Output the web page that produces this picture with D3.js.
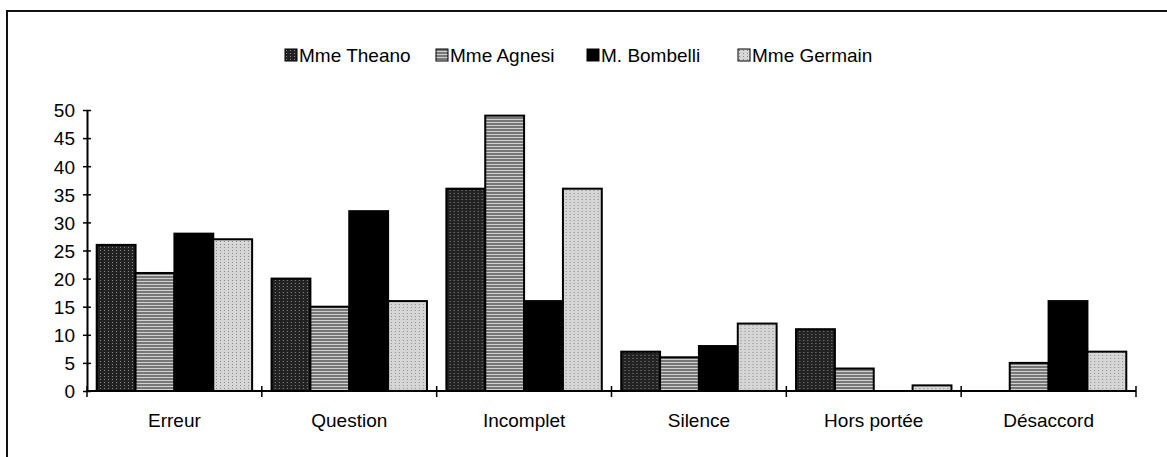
<!DOCTYPE html>
<html>
<head>
<meta charset="utf-8">
<script src="https://cdn.jsdelivr.net/npm/d3@7"></script>
<style>
  html, body { margin: 0; padding: 0; background: #fff; }
  svg { display: block; }
  text { font-family: "Liberation Sans", Arial, sans-serif; fill: #000; }
</style>
</head>
<body>
<script>
const categories = ["Erreur", "Question", "Incomplet", "Silence", "Hors portée", "Désaccord"];
const seriesNames = ["Mme Theano", "Mme Agnesi", "M. Bombelli", "Mme Germain"];
const theano   = [26, 20, 36, 7, 11, 0];
const agnesi   = [21, 15, 49, 6, 4, 5];
const bombelli = [28, 32, 16, 8, 0, 16];
const germain  = [27, 16, 36, 12, 1, 7];
const yTicks = [0, 5, 10, 15, 20, 25, 30, 35, 40, 45, 50];

const seriesValues = [theano, agnesi, bombelli, germain];
const W = 1167, H = 457;
const margin = { left: 87, right: 31, top: 110, bottom: 66 };

const svg = d3.select("body").append("svg").attr("width", W).attr("height", H);
const defs = svg.append("defs");

// texture patterns imitating the scanned print
function pat(id, bg, fg, kind) {
  const p = defs.append("pattern").attr("id", id).attr("patternUnits", "userSpaceOnUse")
    .attr("width", 4).attr("height", 3);
  p.append("rect").attr("width", 4).attr("height", 3).attr("fill", bg);
  if (kind === "dots") {
    p.append("rect").attr("x", 1).attr("y", 1).attr("width", 1).attr("height", 1).attr("fill", fg);
  } else if (kind === "lines") {
    p.append("rect").attr("x", 0).attr("y", 2).attr("width", 4).attr("height", 1).attr("fill", fg);
  }
}
pat("pTheano", "#222", "#8a8a8a", "dots");
pat("pAgnesi", "#777", "#d0d0d0", "lines");
pat("pGermain", "#d6d6d6", "#8a8a8a", "dots");
const fills = ["url(#pTheano)", "url(#pAgnesi)", "#000", "url(#pGermain)"];

// outer frame (top and left edges visible in scan)
svg.append("path").attr("d", `M7,${H} L7,11 L${W},11`)
  .attr("fill", "none").attr("stroke", "#111").attr("stroke-width", 2);

const x0 = d3.scaleBand().domain(categories).range([margin.left, W - margin.right]).paddingInner(0).paddingOuter(0);
const x1 = d3.scaleBand().domain(d3.range(seriesNames.length)).range([0, x0.bandwidth()]).paddingOuter(0.25).paddingInner(0);
const y = d3.scaleLinear().domain([0, 50]).range([H - margin.bottom, margin.top]);

// bars
const groups = svg.append("g").selectAll("g").data(categories).join("g")
  .attr("transform", d => `translate(${x0(d)},0)`);
groups.selectAll("rect")
  .data((c, ci) => seriesValues.map((vals, si) => ({ si, v: vals[ci] })))
  .join("rect")
  .filter(d => d.v > 0)
  .attr("x", d => x1(d.si))
  .attr("y", d => y(d.v))
  .attr("width", x1.bandwidth())
  .attr("height", d => y(0) - y(d.v))
  .attr("fill", d => fills[d.si])
  .attr("stroke", "#000")
  .attr("stroke-width", 2);

// y axis
const yAxis = d3.axisLeft(y).tickValues(yTicks).tickSizeInner(4).tickSizeOuter(0).tickPadding(8);
const gy = svg.append("g").attr("transform", `translate(${margin.left},0)`).call(yAxis);
gy.select(".domain").attr("stroke", "#000").attr("stroke-width", 2);
gy.selectAll(".tick line").attr("x1", -4).attr("x2", 4).attr("stroke", "#000").attr("stroke-width", 1.5);
gy.selectAll(".tick text").attr("font-size", 19).attr("font-family", "Liberation Sans, Arial, sans-serif")
  .attr("fill", "#000").attr("dy", "0.36em");

// x axis: baseline with ticks at category boundaries
const gx = svg.append("g").attr("transform", `translate(0,${y(0)})`);
gx.append("line").attr("x1", margin.left).attr("x2", W - margin.right)
  .attr("stroke", "#000").attr("stroke-width", 2);
const boundaries = categories.map(c => x0(c)).concat([x0(categories[categories.length - 1]) + x0.bandwidth()]);
gx.selectAll("line.bt").data(boundaries).join("line").attr("class", "bt")
  .attr("x1", d => d).attr("x2", d => d).attr("y1", -5).attr("y2", 6)
  .attr("stroke", "#000").attr("stroke-width", 1.5);
gx.selectAll("text").data(categories).join("text")
  .attr("x", d => x0(d) + x0.bandwidth() / 2)
  .attr("y", 36)
  .attr("text-anchor", "middle")
  .attr("font-size", 19)
  .text(d => d);

// legend
const legend = svg.append("g").attr("transform", "translate(285,55)");
const entryW = 151;
const items = legend.selectAll("g").data(seriesNames).join("g")
  .attr("transform", (d, i) => `translate(${i * entryW},0)`);
items.append("rect").attr("x", 0).attr("y", -6).attr("width", 12).attr("height", 12)
  .attr("fill", (d, i) => fills[i]).attr("stroke", "#000").attr("stroke-width", 1);
items.append("text").attr("x", 14).attr("y", 0).attr("dy", "0.36em")
  .attr("font-size", 19).text(d => d);
</script>
</body>
</html>
